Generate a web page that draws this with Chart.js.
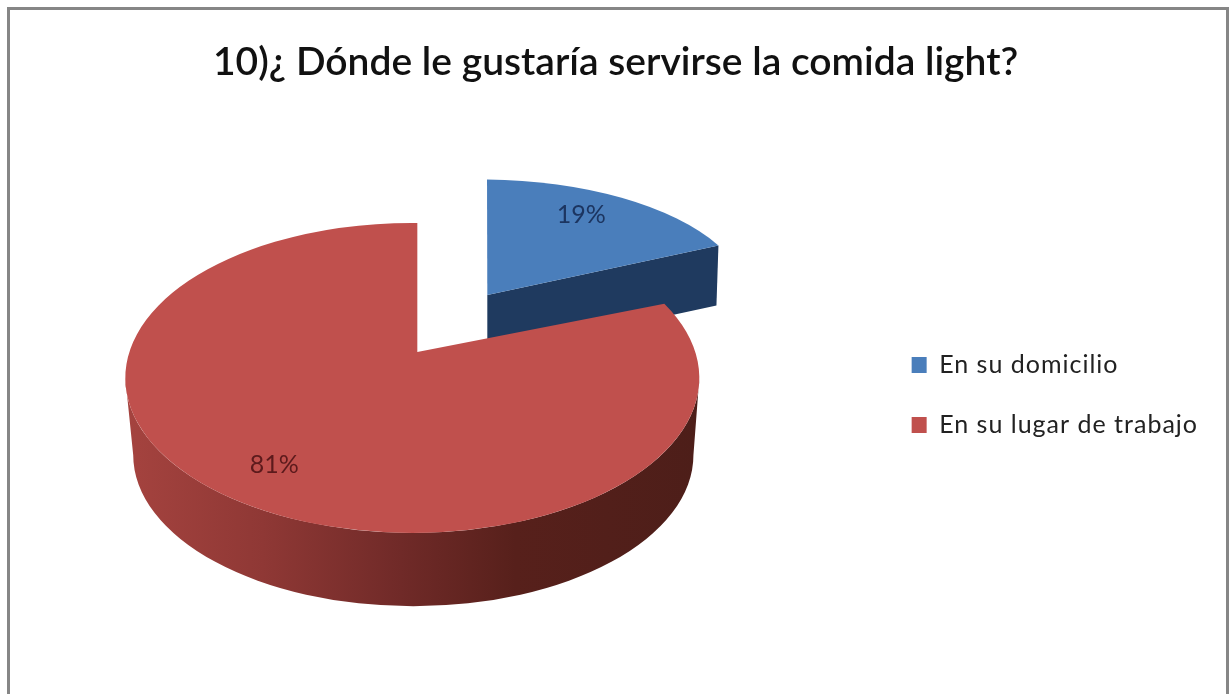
<!DOCTYPE html>
<html lang="es">
<head>
<meta charset="utf-8">
<title>Comida light</title>
<script src="https://cdn.jsdelivr.net/npm/chart.js@4/dist/chart.umd.min.js"></script>
<style>
  html, body { margin: 0; padding: 0; background: #fff; }
  canvas { display: block; }
</style>
</head>
<body>
<canvas id="chart" width="1231" height="694"></canvas>
<script>
const chartTitle = '10)¿ Dónde le gustaría servirse la comida light?';
const categories = ['En su domicilio', 'En su lugar de trabajo'];
const shares = [19, 81];
const topColours = ['#4a7ebb', '#c0504d'];
const labelColours = ['#1c3560', '#5c1a1c'];

// Per-slice camera: far slices appear smaller and flatter, and the first slice is pulled out.
const sliceCamera = [
  { scale: 0.937, tilt: 0.47, dx: 70, dy: -57, rimX: -5, rimY: 11, depth: 60, nudgeX: -7, nudgeY: -4 },
  { scale: 1, tilt: 0.54, dx: 0, dy: 0, rimX: -5, rimY: 26, depth: 0, nudgeX: 3, nudgeY: 2 }
];

const DEG = Math.PI / 180;
const LOWER = { x: 1, y: 77, scale: 0.976 };
const LEGEND_SHIFT = { x: -23, y: 48 };
const LEGEND_TRACKING = '1px';

function rimAngle(theta) {
  return theta - 8.6 * DEG * Math.sin(theta) + DEG;
}

function frame(el, cam, originX, originY) {
  const rx = el.outerRadius * cam.scale;
  const ax = originX + cam.dx;
  const ay = originY + cam.dy;
  return {
    ax, ay, rx, ry: el.outerRadius * cam.tilt * (cam.scale === 1 ? 1 : cam.scale),
    cx: ax + cam.rimX,
    cy: ay + cam.rimY,
    start: rimAngle(el.startAngle + Math.PI / 2),
    end: rimAngle(el.endAngle + Math.PI / 2)
  };
}

function rimPoint(f, phi) {
  return { x: f.cx + f.rx * Math.sin(phi), y: f.cy - f.ry * Math.cos(phi) };
}

const pie3d = {
  id: 'pie3d',
  beforeLayout(chart) {
    chart.ctx.letterSpacing = LEGEND_TRACKING;
  },
  afterLayout(chart) {
    const { ctx, legend } = chart;
    ctx.letterSpacing = '0px';
    legend.left += LEGEND_SHIFT.x;
    legend.right += LEGEND_SHIFT.x;
    legend.top += LEGEND_SHIFT.y;
    legend.bottom += LEGEND_SHIFT.y;
    if (!legend.tracked) {
      const drawLegend = legend.draw;
      legend.draw = function (...args) {
        ctx.letterSpacing = LEGEND_TRACKING;
        drawLegend.apply(this, args);
        ctx.letterSpacing = '0px';
      };
      legend.tracked = true;
    }
  },
  beforeDraw(chart) {
    const { ctx, width, height } = chart;
    ctx.save();
    ctx.strokeStyle = '#868686';
    ctx.lineWidth = 3;
    ctx.beginPath();
    ctx.moveTo(8.5, height);
    ctx.lineTo(8.5, 8.5);
    ctx.lineTo(width - 3.5, 8.5);
    ctx.lineTo(width - 3.5, height);
    ctx.stroke();
    ctx.restore();
  },
  beforeDatasetsDraw(chart) {
    const { ctx } = chart;
    const arcs = chart.getDatasetMeta(0).data;
    const originX = arcs[0].x - 32.5;
    const originY = arcs[0].y - 43;

    // Paint back-to-front: the pulled-out slice first, the large slice over it.
    arcs.forEach((el, i) => {
      const cam = sliceCamera[i];
      const f = frame(el, cam, originX, originY);

      // Side wall along the front of the rim.
      const from = Math.max(f.start, 90 * DEG);
      const to = Math.min(f.end, 270 * DEG);
      if (to > from) {
        const lowX = f.cx + LOWER.x;
        const lowY = f.cy + LOWER.y;
        const lowRx = f.rx * LOWER.scale;
        const lowRy = f.ry * LOWER.scale;
        const wall = ctx.createLinearGradient(f.cx - f.rx, 0, f.cx + f.rx, 0);
        wall.addColorStop(0, '#a5433f');
        wall.addColorStop(0.24, '#8f3835');
        wall.addColorStop(0.48, '#702a28');
        wall.addColorStop(0.68, '#57201b');
        wall.addColorStop(1, '#4d1e19');
        ctx.fillStyle = wall;
        ctx.beginPath();
        ctx.ellipse(f.cx, f.cy, f.rx, f.ry, 0, 0, Math.PI);
        ctx.ellipse(lowX, lowY, lowRx, lowRy, 0, Math.PI, 0, true);
        ctx.closePath();
        ctx.fill();
      }

      // Cut face below the slice's closing edge, when it faces the viewer.
      if (cam.depth > 0) {
        const p = rimPoint(f, f.end);
        ctx.fillStyle = '#1f3a5f';
        ctx.beginPath();
        ctx.moveTo(f.ax, f.ay);
        ctx.lineTo(p.x, p.y);
        ctx.lineTo(p.x - 2, p.y + cam.depth);
        ctx.lineTo(f.ax, f.ay + cam.depth);
        ctx.closePath();
        ctx.fill();
      }

      // Top face.
      ctx.fillStyle = topColours[i];
      ctx.beginPath();
      ctx.moveTo(f.ax, f.ay);
      const p0 = rimPoint(f, f.start);
      ctx.lineTo(p0.x, p0.y);
      ctx.ellipse(f.cx, f.cy, f.rx, f.ry, 0, f.start - Math.PI / 2, f.end - Math.PI / 2);
      ctx.closePath();
      ctx.fill();
    });

    // Percentage labels on the top faces.
    ctx.font = '25px Lato';
    ctx.textAlign = 'center';
    ctx.textBaseline = 'middle';
    arcs.forEach((el, i) => {
      const cam = sliceCamera[i];
      const f = frame(el, cam, originX, originY);
      const mid = (el.startAngle + el.endAngle) / 2 + Math.PI / 2;
      const rim = rimPoint(f, rimAngle(mid));
      ctx.fillStyle = labelColours[i];
      ctx.fillText(shares[i] + '%',
        f.ax + (rim.x - f.ax) * 0.77 + cam.nudgeX,
        f.ay + (rim.y - f.ay) * 0.77 + cam.nudgeY);
    });
    return false;
  }
};

new Chart(document.getElementById('chart'), {
  type: 'pie',
  data: {
    labels: categories,
    datasets: [{ data: shares, backgroundColor: topColours, borderWidth: 0, radius: 287 }]
  },
  options: {
    responsive: false,
    animation: false,
    plugins: {
      title: {
        display: true,
        text: chartTitle,
        color: '#111',
        font: { family: 'Lato', size: 39, weight: '600' },
        padding: { top: 39, bottom: 10 }
      },
      legend: {
        position: 'right',
        labels: {
          color: '#222',
          font: { family: 'Lato', size: 25 },
          boxWidth: 15,
          boxHeight: 16,
          padding: 35
        }
      },
      tooltip: { enabled: false }
    }
  },
  plugins: [pie3d]
});
</script>
</body>
</html>
